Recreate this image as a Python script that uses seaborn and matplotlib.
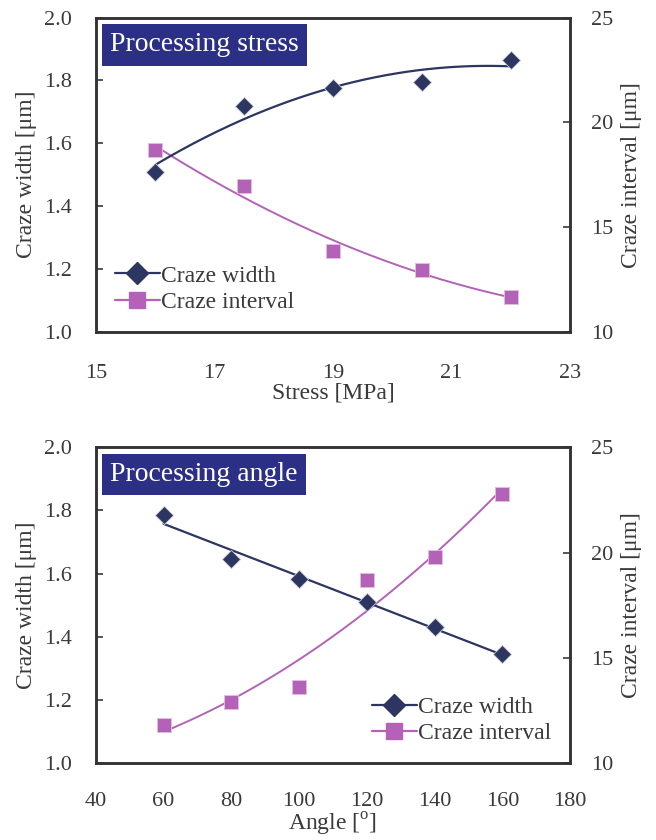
import numpy as np
import pandas as pd
import matplotlib
matplotlib.use('Agg')
import matplotlib.pyplot as plt
from matplotlib.lines import Line2D
import seaborn as sns

# ---- data ----
stress = [16.0, 17.5, 19.0, 20.5, 22.0]
stress_width = [1.51, 1.72, 1.775, 1.795, 1.865]
stress_interval = [18.7, 16.95, 13.85, 12.95, 11.65]

angle = [60, 80, 100, 120, 140, 160]
angle_width = [1.785, 1.645, 1.583, 1.511, 1.431, 1.347]
angle_interval = [11.8, 12.9, 13.6, 18.7, 19.8, 22.8]

NAVY = '#2d3561'
PURPLE = '#b462b8'
BOX = '#2b2f86'
TXT = '#3a3a3a'

sns.set_theme(style='white')
plt.rcParams['font.family'] = ['Liberation Serif', 'DejaVu Serif']
plt.rcParams['mathtext.fontset'] = 'custom'
plt.rcParams['mathtext.rm'] = 'Liberation Serif'
plt.rcParams['xtick.direction'] = 'in'
plt.rcParams['ytick.direction'] = 'in'

FS = 16
LFS = 17


def fit_curve(x, y, deg=2, n=200):
    c = np.polyfit(x, y, deg)
    xs = np.linspace(min(x), max(x), n)
    return pd.DataFrame({'x': xs, 'y': np.polyval(c, xs)})


def panel(ax, x, w, itv, title, xlabel, xlim, xticks, legend_loc, wdeg, ideg, xpad):
    ax2 = ax.twinx()
    fw = fit_curve(x, w, wdeg)
    fi = fit_curve(x, itv, ideg)
    sns.lineplot(data=fw, x='x', y='y', ax=ax, color=NAVY, lw=1.6)
    sns.scatterplot(x=x, y=w, ax=ax, marker='D', s=85, color=NAVY,
                    edgecolor='#c8c8d8', linewidth=0.6, zorder=5)
    sns.lineplot(data=fi, x='x', y='y', ax=ax2, color=PURPLE, lw=1.4)
    sns.scatterplot(x=x, y=itv, ax=ax2, marker='s', s=110, color=PURPLE,
                    edgecolor='#e0c0e0', linewidth=0.6, zorder=5)

    ax.set_xlim(*xlim)
    ax.set_xticks(xticks)
    ax.set_ylim(1.0, 2.0)
    ax.set_yticks(np.arange(1.0, 2.01, 0.2))
    ax.set_yticklabels([f'{v:.1f}' for v in np.arange(1.0, 2.01, 0.2)])
    ax2.set_ylim(10, 25)
    ax2.set_yticks([10, 15, 20, 25])

    ax.set_xlabel(xlabel, fontsize=LFS, color=TXT, labelpad=0)
    ax.set_ylabel('Craze width [μm]', fontsize=LFS, color=TXT, labelpad=5)
    ax2.set_ylabel('Craze interval [μm]', fontsize=LFS, color=TXT, labelpad=6)

    ax.tick_params(axis='y', labelsize=FS, colors=TXT, length=5, width=1.2, pad=17)
    ax.tick_params(axis='x', labelsize=FS, colors=TXT, length=5, width=1.2, pad=xpad)
    ax2.tick_params(axis='y', labelsize=FS, colors=TXT, length=5, width=1.2, pad=15)
    for a in (ax, ax2):
        for sp in a.spines.values():
            sp.set_color('#333333')
            sp.set_linewidth(1.8)

    ax.text(0.03, 0.953, title, transform=ax.transAxes, fontsize=20,
            color='white', va='top', ha='left', zorder=10,
            bbox=dict(boxstyle='square,pad=0.3', fc=BOX, ec='none'))

    handles = [
        Line2D([], [], color=NAVY, lw=1.6, marker='D', markersize=11,
               markerfacecolor=NAVY, markeredgecolor=NAVY),
        Line2D([], [], color=PURPLE, lw=1.6, marker='s', markersize=11,
               markerfacecolor=PURPLE, markeredgecolor=PURPLE),
    ]
    leg = ax.legend(handles, ['Craze width', 'Craze interval'], loc=legend_loc,
                    frameon=False, fontsize=LFS, handlelength=1.9,
                    handletextpad=0.05, borderaxespad=0.4, labelspacing=0.2)
    for t in leg.get_texts():
        t.set_color(TXT)
    leg.set_zorder(20)
    ax.set_zorder(ax2.get_zorder() + 1)
    ax.patch.set_visible(False)
    return ax2


fig = plt.figure(figsize=(6.56, 8.40), dpi=100)
ax_top = fig.add_axes([0.146, 0.605, 0.723, 0.374])
ax_bot = fig.add_axes([0.146, 0.0915, 0.723, 0.376])

panel(ax_top, stress, stress_width, stress_interval, 'Processing stress',
      'Stress [MPa]', (15, 23), [15, 17, 19, 21, 23], 'lower left', 2, 2, 23)
panel(ax_bot, angle, angle_width, angle_interval, 'Processing angle',
      r'Angle [$^\mathregular{o}$]', (40, 180), list(range(40, 181, 20)),
      'lower right', 1, 2, 21)

fig.savefig('out.png', dpi=100, facecolor='white')
